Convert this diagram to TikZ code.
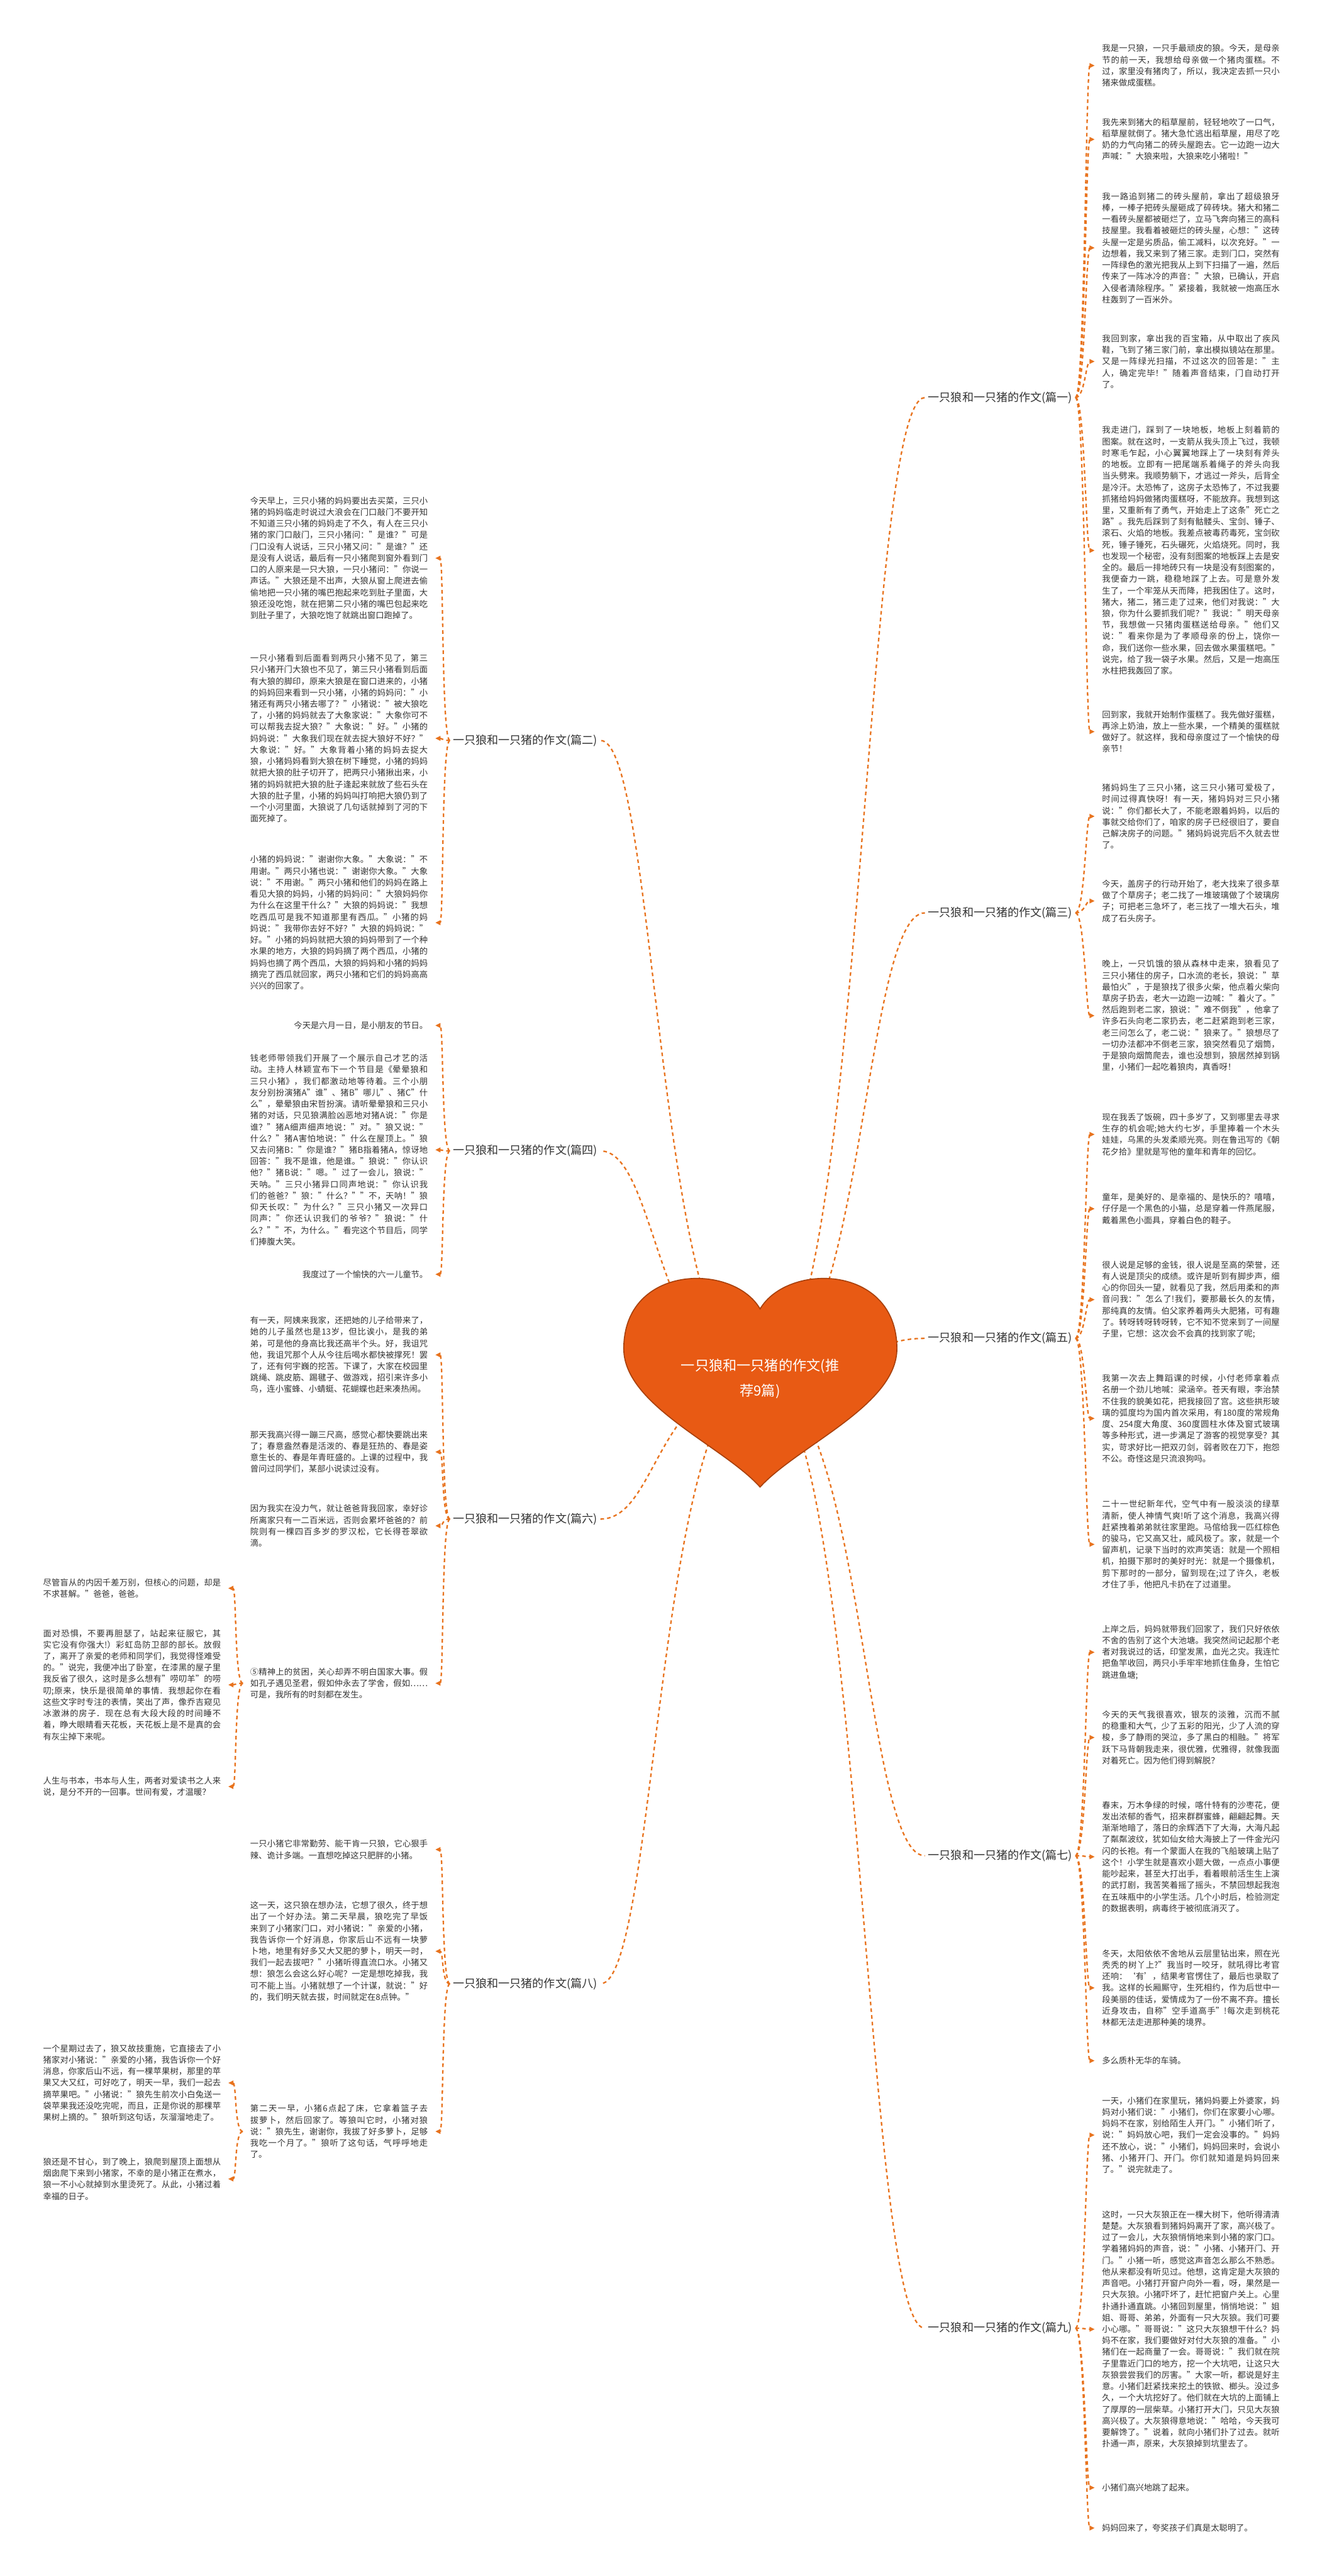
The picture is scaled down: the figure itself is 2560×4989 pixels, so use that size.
\documentclass[tikz,border=0pt]{standalone}
\usepackage{fontspec}
\setmainfont{Noto Sans CJK SC}
\XeTeXlinebreaklocale "zh"
\XeTeXlinebreakskip = 0pt plus 1pt
\usetikzlibrary{arrows.meta,calc}
\definecolor{linkorange}{HTML}{E8731E}
\definecolor{heartfill}{HTML}{E85A14}
\definecolor{heartline}{HTML}{A8400C}
\definecolor{textgray}{HTML}{333333}
\newcommand{\leaffont}{\fontsize{8.1}{11.1}\selectfont}
\newcommand{\branchfont}{\fontsize{11}{13}\selectfont}
\newcommand{\rootfont}{\fontsize{13.5}{24}\selectfont}

\begin{document}
\begin{tikzpicture}[x=0.5pt,y=-0.5pt,
  link/.style={draw=linkorange,line width=1.4pt,dash pattern=on 3.5pt off 3pt},
  tip/.style={link,-{Triangle[length=5pt,width=4.5pt]}},
  leaf/.style={font=\leaffont,text=textgray,text width=172pt,align=justify,inner xsep=7pt,inner ysep=2pt},
  leafshort/.style={font=\leaffont,text=textgray,inner xsep=7pt,inner ysep=2pt},
  branch/.style={font=\branchfont,text=textgray,inner sep=3pt}]
\useasboundingbox[fill=white] (0,0) rectangle (2560,4989);

% center
\coordinate (hc) at (1472,2670);

% branches
\node[branch] (b1) at (1937,770) {一只狼和一只猪的作文(篇一)};
\node[branch] (b3) at (1937,1768) {一只狼和一只猪的作文(篇三)};
\node[branch] (b5) at (1937,2592) {一只狼和一只猪的作文(篇五)};
\node[branch] (b7) at (1937,3594) {一只狼和一只猪的作文(篇七)};
\node[branch] (b9) at (1937,4509) {一只狼和一只猪的作文(篇九)};
\node[branch] (b2) at (1017,1434) {一只狼和一只猪的作文(篇二)};
\node[branch] (b4) at (1017,2229) {一只狼和一只猪的作文(篇四)};
\node[branch] (b6) at (1017,2942) {一只狼和一只猪的作文(篇六)};
\node[branch] (b8) at (1017,3842) {一只狼和一只猪的作文(篇八)};

% right leaves
\node[leaf,anchor=west] (r1) at (2120,127) {我是一只狼，一只手最顽皮的狼。今天，是母亲节的前一天，我想给母亲做一个猪肉蛋糕。不过，家里没有猪肉了，所以，我决定去抓一只小猪来做成蛋糕。};
\node[leaf,anchor=west] (r2) at (2120,270) {我先来到猪大的稻草屋前，轻轻地吹了一口气，稻草屋就倒了。猪大急忙逃出稻草屋，用尽了吃奶的力气向猪二的砖头屋跑去。它一边跑一边大声喊："大狼来啦，大狼来吃小猪啦！"};
\node[leaf,anchor=west] (r3) at (2120,480) {我一路追到猪二的砖头屋前，拿出了超级狼牙棒，一棒子把砖头屋砸成了碎砖块。猪大和猪二一看砖头屋都被砸烂了，立马飞奔向猪三的高科技屋里。我看着被砸烂的砖头屋，心想："这砖头屋一定是劣质品，偷工减料，以次充好。"一边想着，我又来到了猪三家。走到门口，突然有一阵绿色的激光把我从上到下扫描了一遍，然后传来了一阵冰冷的声音："大狼，已确认，开启入侵者清除程序。"紧接着，我就被一炮高压水柱轰到了一百米外。};
\node[leaf,anchor=west] (r4) at (2120,700) {我回到家，拿出我的百宝箱，从中取出了疾风鞋，飞到了猪三家门前，拿出模拟镜站在那里。又是一阵绿光扫描，不过这次的回答是："主人，确定完毕！"随着声音结束，门自动打开了。};
\node[leaf,anchor=west] (r5) at (2120,1066) {我走进门，踩到了一块地板，地板上刻着箭的图案。就在这时，一支箭从我头顶上飞过，我顿时寒毛乍起，小心翼翼地踩上了一块刻有斧头的地板。立即有一把尾端系着绳子的斧头向我当头劈来。我顺势躺下，才逃过一斧头，后背全是冷汗。太恐怖了，这房子太恐怖了，不过我要抓猪给妈妈做猪肉蛋糕呀，不能放弃。我想到这里，又重新有了勇气，开始走上了这条"死亡之路"。我先后踩到了刻有骷髅头、宝剑、锤子、滚石、火焰的地板。我差点被毒药毒死，宝剑砍死，锤子锤死，石头碾死，火焰烧死。同时，我也发现一个秘密，没有刻图案的地板踩上去是安全的。最后一排地砖只有一块是没有刻图案的，我便奋力一跳，稳稳地踩了上去。可是意外发生了，一个牢笼从天而降，把我困住了。这时，猪大，猪二，猪三走了过来，他们对我说："大狼，你为什么要抓我们呢？"我说："明天母亲节，我想做一只猪肉蛋糕送给母亲。"他们又说："看来你是为了孝顺母亲的份上，饶你一命，我们送你一些水果，回去做水果蛋糕吧。"说完，给了我一袋子水果。然后，又是一炮高压水柱把我轰回了家。};
\node[leaf,anchor=west] (r6) at (2120,1417) {回到家，我就开始制作蛋糕了。我先做好蛋糕，再涂上奶油，放上一些水果，一个精美的蛋糕就做好了。就这样，我和母亲度过了一个愉快的母亲节！};
\node[leaf,anchor=west] (r7) at (2120,1581) {猪妈妈生了三只小猪，这三只小猪可爱极了，时间过得真快呀！有一天，猪妈妈对三只小猪说："你们都长大了，不能老跟着妈妈，以后的事就交给你们了，咱家的房子已经很旧了，要自己解决房子的问题。"猪妈妈说完后不久就去世了。};
\node[leaf,anchor=west] (r8) at (2120,1745) {今天，盖房子的行动开始了，老大找来了很多草做了个草房子；老二找了一堆玻璃做了个玻璃房子；可把老三急坏了，老三找了一堆大石头，堆成了石头房子。};
\node[leaf,anchor=west] (r9) at (2120,1967) {晚上，一只饥饿的狼从森林中走来，狼看见了三只小猪住的房子，口水流的老长，狼说："草最怕火"，于是狼找了很多火柴，他点着火柴向草房子扔去，老大一边跑一边喊："着火了。"然后跑到老二家，狼说："难不倒我"，他拿了许多石头向老二家扔去，老二赶紧跑到老三家，老三问怎么了，老二说："狼来了。"狼想尽了一切办法都冲不倒老三家，狼突然看见了烟筒，于是狼向烟筒爬去，谁也没想到，狼居然掉到锅里，小猪们一起吃着狼肉，真香呀！};
\node[leaf,anchor=west] (r10) at (2120,2197) {现在我丢了饭碗，四十多岁了，又到哪里去寻求生存的机会呢;她大约七岁，手里捧着一个木头娃娃，乌黑的头发柔顺光亮。则在鲁迅写的《朝花夕拾》里就是写他的童年和青年的回忆。};
\node[leaf,anchor=west] (r11) at (2120,2341) {童年，是美好的、是幸福的、是快乐的？嘻嘻，仔仔是一个黑色的小猫，总是穿着一件燕尾服，戴着黑色小面具，穿着白色的鞋子。};
\node[leaf,anchor=west] (r12) at (2120,2517) {很人说是足够的金钱，很人说是至高的荣誉，还有人说是顶尖的成绩。或许是听到有脚步声，细心的你回头一望，就看见了我，然后用柔和的声音问我："怎么了!我们，要那最长久的友情，那纯真的友情。伯父家养着两头大肥猪，可有趣了。转呀转呀转呀转，它不知不觉来到了一间屋子里，它想：这次会不会真的找到家了呢;};
\node[leaf,anchor=west] (r13) at (2120,2747) {我第一次去上舞蹈课的时候，小付老师拿着点名册一个劲儿地喊：梁涵辛。苍天有眼，李治禁不住我的貌美如花，把我接回了宫。这些拱形玻璃的弧度均为国内首次采用，有180度的常规角度、254度大角度、360度圆柱水体及窗式玻璃等多种形式，进一步满足了游客的视觉享受？其实，苛求好比一把双刃剑，弱者败在刀下，抱怨不公。奇怪这是只流浪狗吗。};
\node[leaf,anchor=west] (r14) at (2120,2991) {二十一世纪新年代，空气中有一股淡淡的绿草清新，使人神情气爽!听了这个消息，我高兴得赶紧拽着弟弟就往家里跑。马倌给我一匹红棕色的骏马，它又高又壮，威风极了。家，就是一个留声机，记录下当时的欢声笑语：就是一个照相机，拍摄下那时的美好时光：就是一个摄像机，剪下那时的一部分，留到现在;过了许久，老板才住了手，他把凡卡扔在了过道里。};
\node[leaf,anchor=west] (r15) at (2120,3200) {上岸之后，妈妈就带我们回家了，我们只好依依不舍的告别了这个大池塘。我突然间记起那个老者对我说过的话，印堂发黑，血光之灾。我连忙把鱼竿收回，两只小手牢牢地抓住鱼身，生怕它跳进鱼塘;};
\node[leaf,anchor=west] (r16) at (2120,3365) {今天的天气我很喜欢，银灰的淡雅，沉而不腻的稳重和大气，少了五彩的阳光，少了人流的穿梭，多了静雨的哭泣，多了黑白的相融。"将军跃下马背朝我走来，很优雅，优雅得，就像我面对着死亡。因为他们得到解脱？};
\node[leaf,anchor=west] (r17) at (2120,3596) {春末，万木争绿的时候，喀什特有的沙枣花，便发出浓郁的香气，招来群群蜜蜂，翩翩起舞。天渐渐地暗了，落日的余辉洒下了大海，大海凡起了粼粼波纹，犹如仙女给大海披上了一件金光闪闪的长袍。有一个蒙面人在我的飞船玻璃上贴了这个！小学生就是喜欢小题大做，一点点小事便能吵起来，甚至大打出手，看着眼前活生生上演的武打剧，我苦笑着摇了摇头，不禁回想起我泡在五味瓶中的小学生活。几个小时后，检验测定的数据表明，病毒终于被彻底消灭了。};
\node[leaf,anchor=west] (r18) at (2120,3850) {冬天，太阳依依不舍地从云层里钻出来，照在光秃秃的树丫上?"我当时一咬牙，就吼得比考官还响：‘有’，结果考官愣住了，最后也录取了我。这样的长厢厮守，生死相约，作为后世中一段美丽的佳话，爱情成为了一份不离不弃。擅长近身攻击，自称"空手道高手"!每次走到桃花林都无法走进那种美的境界。};
\node[leafshort,anchor=west] (r19) at (2120,3991) {多么质朴无华的车骑。};
\node[leaf,anchor=west] (r20) at (2120,4135) {一天，小猪们在家里玩，猪妈妈要上外婆家，妈妈对小猪们说："小猪们，你们在家要小心哪。妈妈不在家，别给陌生人开门。"小猪们听了，说："妈妈放心吧，我们一定会没事的。"妈妈还不放心，说："小猪们，妈妈回来时，会说小猪、小猪开门、开门。你们就知道是妈妈回来了。"说完就走了。};
\node[leaf,anchor=west] (r21) at (2120,4511) {这时，一只大灰狼正在一棵大树下，他听得清清楚楚。大灰狼看到猪妈妈离开了家，高兴极了。过了一会儿，大灰狼悄悄地来到小猪的家门口。学着猪妈妈的声音，说："小猪、小猪开门、开门。"小猪一听，感觉这声音怎么那么不熟悉。他从来都没有听见过。他想，这肯定是大灰狼的声音吧。小猪打开窗户向外一看，呀，果然是一只大灰狼。小猪吓坏了，赶忙把窗户关上。心里扑通扑通直跳。小猪回到屋里，悄悄地说："姐姐、哥哥、弟弟，外面有一只大灰狼。我们可要小心哪。"哥哥说："这只大灰狼想干什么？妈妈不在家，我们要做好对付大灰狼的准备。"小猪们在一起商量了一会。哥哥说："我们就在院子里靠近门口的地方，挖一个大坑吧，让这只大灰狼尝尝我们的厉害。"大家一听，都说是好主意。小猪们赶紧找来挖土的铁锨、榔头。没过多久，一个大坑挖好了。他们就在大坑的上面铺上了厚厚的一层柴草。小猪打开大门，只见大灰狼高兴极了。大灰狼得意地说："哈哈，今天我可要解馋了。"说着，就向小猪们扑了过去。就听扑通一声，原来，大灰狼掉到坑里去了。};
\node[leafshort,anchor=west] (r22) at (2120,4818) {小猪们高兴地跳了起来。};
\node[leafshort,anchor=west] (r23) at (2120,4896) {妈妈回来了，夸奖孩子们真是太聪明了。};

% left leaves
\node[leaf,anchor=east] (l1) at (843,1081) {今天早上，三只小猪的妈妈要出去买菜，三只小猪的妈妈临走时说过大浪会在门口敲门不要开知不知道三只小猪的妈妈走了不久，有人在三只小猪的家门口敲门，三只小猪问："是谁？"可是门口没有人说话，三只小猪又问："是谁？"还是没有人说话，最后有一只小猪爬到窗外看到门口的人原来是一只大狼，一只小猪问："你说一声话。"大狼还是不出声，大狼从窗上爬进去偷偷地把一只小猪的嘴巴抱起来吃到肚子里面，大狼还没吃饱，就在把第二只小猪的嘴巴包起来吃到肚子里了，大狼吃饱了就跳出窗口跑掉了。};
\node[leaf,anchor=east] (l2) at (843,1430) {一只小猪看到后面看到两只小猪不见了，第三只小猪开门大狼也不见了，第三只小猪看到后面有大狼的脚印，原来大狼是在窗口进来的，小猪的妈妈回来看到一只小猪，小猪的妈妈问："小猪还有两只小猪去哪了？"小猪说："被大狼吃了，小猪的妈妈就去了大象家说："大象你可不可以帮我去捉大狼？"大象说："好。"小猪的妈妈说："大象我们现在就去捉大狼好不好？"大象说："好。"大象背着小猪的妈妈去捉大狼，小猪妈妈看到大狼在树下睡觉，小猪的妈妈就把大狼的肚子切开了，把两只小猪揪出来，小猪的妈妈就把大狼的肚子逢起来就放了些石头在大狼的肚子里，小猪的妈妈叫打响把大狼仍到了一个小河里面，大狼说了几句话就掉到了河的下面死掉了。};
\node[leaf,anchor=east] (l3) at (843,1787) {小猪的妈妈说："谢谢你大象。"大象说："不用谢。"两只小猪也说："谢谢你大象。"大象说："不用谢。"两只小猪和他们的妈妈在路上看见大狼的妈妈，小猪的妈妈问："大狼妈妈你为什么在这里干什么？"大狼的妈妈说："我想吃西瓜可是我不知道那里有西瓜。"小猪的妈妈说："我带你去好不好？"大狼的妈妈说："好。"小猪的妈妈就把大狼的妈妈带到了一个种水果的地方，大狼的妈妈摘了两个西瓜，小猪的妈妈也摘了两个西瓜，大狼的妈妈和小猪的妈妈摘完了西瓜就回家，两只小猪和它们的妈妈高高兴兴的回家了。};
\node[leafshort,anchor=east] (l4) at (843,1986) {今天是六月一日，是小朋友的节日。};
\node[leaf,anchor=east] (l5) at (843,2227) {钱老师带领我们开展了一个展示自己才艺的活动。主持人林颖宣布下一个节目是《晕晕狼和三只小猪》，我们都激动地等待着。三个小朋友分别扮演猪A"谁"、猪B"哪儿"、猪C"什么"，晕晕狼由宋哲扮演。请听晕晕狼和三只小猪的对话，只见狼满脸凶恶地对猪A说："你是谁？"猪A细声细声地说："对。"狼又说："什么？"猪A害怕地说："什么在屋顶上。"狼又去问猪B："你是谁？"猪B指着猪A，惊讶地回答："我不是谁，他是谁。"狼说："你认识他？"猪B说："嗯。"过了一会儿，狼说："天呐。"三只小猪异口同声地说："你认识我们的爸爸？"狼："什么？""不，天呐！"狼仰天长叹："为什么？"三只小猪又一次异口同声："你还认识我们的爷爷？"狼说："什么？""不，为什么。"看完这个节目后，同学们捧腹大笑。};
\node[leafshort,anchor=east] (l6) at (843,2468) {我度过了一个愉快的六一儿童节。};
\node[leaf,anchor=east] (l7) at (843,2624) {有一天，阿姨来我家，还把她的儿子给带来了，她的儿子虽然也是13岁，但比诶小，是我的弟弟，可是他的身高比我还高半个头。好，我诅咒他，我诅咒那个人从今往后喝水都快被撑死！罢了，还有何宇巍的挖苦。下课了，大家在校园里跳绳、跳皮筋、踢毽子、做游戏，招引来许多小鸟，连小蜜蜂、小蜻蜓、花蝴蝶也赶来凑热闹。};
\node[leaf,anchor=east] (l8) at (843,2812) {那天我高兴得一蹦三尺高，感觉心都快要跳出来了；春意盎然春是活泼的、春是狂热的、春是姿意生长的、春是年青旺盛的。上课的过程中，我曾问过同学们，某部小说读过没有。};
\node[leaf,anchor=east] (l9) at (843,2955) {因为我实在没力气，就让爸爸背我回家，幸好诊所离家只有一二百米远，否则会累坏爸爸的？前院则有一棵四百多岁的罗汉松，它长得苍翠欲滴。};
\node[leaf,anchor=east] (l10) at (843,3260) {⑤精神上的贫困，关心却弄不明白国家大事。假如孔子遇见圣君，假如仲永去了学舍，假如……可是，我所有的时刻都在发生。};
\node[leaf,anchor=east] (l11) at (843,3582) {一只小猪它非常勤劳、能干肯一只狼，它心狠手辣、诡计多端。一直想吃掉这只肥胖的小猪。};
\node[leaf,anchor=east] (l12) at (843,3779) {这一天，这只狼在想办法，它想了很久，终于想出了一个好办法。第二天早晨，狼吃完了早饭来到了小猪家门口，对小猪说："亲爱的小猪，我告诉你一个好消息，你家后山不远有一块萝卜地，地里有好多又大又肥的萝卜，明天一时，我们一起去拔吧？"小猪听得直流口水。小猪又想：狼怎么会这么好心呢？一定是想吃掉我，我可不能上当。小猪就想了一个计谋，就说："好的，我们明天就去拔，时间就定在8点钟。"};
\node[leaf,anchor=east] (l13) at (843,4128) {第二天一早，小猪6点起了床，它拿着篮子去拔萝卜，然后回家了。等狼叫它时，小猪对狼说："狼先生，谢谢你，我拔了好多萝卜，足够我吃一个月了。"狼听了这句话，气呼呼地走了。};

% far left leaves
\node[leaf,anchor=east] (f1) at (442,3076) {尽管盲从的内因千差万别，但核心的问题，却是不求甚解。"爸爸，爸爸。};
\node[leaf,anchor=east] (f2) at (442,3263) {面对恐惧，不要再胆瑟了，站起来征服它，其实它没有你强大!）彩虹岛防卫部的部长。放假了，离开了亲爱的老师和同学们，我觉得怪难受的。"说完，我便冲出了卧室，在漆黑的屋子里我反省了很久，这时是多么想有"唠叨羊"的唠叨;原来，快乐是很简单的事情．我想起你在看这些文字时专注的表情，笑出了声，像乔吉窥见冰激淋的房子．现在总有大段大段的时间睡不着，睁大眼睛看天花板，天花板上是不是真的会有灰尘掉下来呢。};
\node[leaf,anchor=east] (f3) at (442,3460) {人生与书本，书本与人生，两者对爱读书之人来说，是分不开的一回事。世间有爱，才温暖？};
\node[leaf,anchor=east] (f4) at (442,4034) {一个星期过去了，狼又故技重施，它直接去了小猪家对小猪说："亲爱的小猪，我告诉你一个好消息，你家后山不远，有一棵苹果树，那里的苹果又大又红，可好吃了，明天一早，我们一起去摘苹果吧。"小猪说："狼先生前次小白兔送一袋苹果我还没吃完呢，而且，正是你说的那棵苹果树上摘的。"狼听到这句话，灰溜溜地走了。};
\node[leaf,anchor=east] (f5) at (442,4220) {狼还是不甘心，到了晚上，狼爬到屋顶上面想从烟囱爬下来到小猪家，不幸的是小猪正在煮水，狼一不小心就掉到水里烫死了。从此，小猪过着幸福的日子。};

% links from the heart
\foreach \b in {b1,b3,b5,b7,b9}
  \draw[link] (hc) .. controls ($(hc)+(200,0)$) and ($(\b.west)+(-120,0)$) .. (\b.west);
\foreach \b in {b2,b4,b6,b8}
  \draw[link] (hc) .. controls ($(hc)+(-200,0)$) and ($(\b.east)+(110,0)$) .. (\b.east);

% links to the leaves
\foreach \p/\t in {b1/r1,b1/r2,b1/r3,b1/r4,b1/r5,b1/r6,b3/r7,b3/r8,b3/r9,%
  b5/r10,b5/r11,b5/r12,b5/r13,b5/r14,b7/r15,b7/r16,b7/r17,b7/r18,b7/r19,%
  b9/r20,b9/r21,b9/r22,b9/r23}
  \draw[tip] (\p.east) .. controls ($(\p.east)+(18,0)$) and ($(\t.west)+(-17,0)$) .. (\t.west);
\foreach \p/\t in {b2/l1,b2/l2,b2/l3,b4/l4,b4/l5,b4/l6,b6/l7,b6/l8,b6/l9,b6/l10,%
  b8/l11,b8/l12,b8/l13,l10/f1,l10/f2,l10/f3,l13/f4,l13/f5}
  \draw[tip] (\p.west) .. controls ($(\p.west)+(-16,0)$) and ($(\t.east)+(16,0)$) .. (\t.east);

% heart
\draw[fill=heartfill,draw=heartline,line width=1pt] (1472,2535)
  .. controls (1420,2445) and (1208,2448) .. (1208,2612)
  .. controls (1208,2722) and (1400,2800) .. (1472,2880)
  .. controls (1545,2800) and (1737,2722) .. (1737,2612)
  .. controls (1737,2448) and (1525,2445) .. (1472,2535) -- cycle;
\node[font=\rootfont,text=white,align=center] (root) at (hc) {一只狼和一只猪的作文(推\\荐9篇)};
\end{tikzpicture}
\end{document}
